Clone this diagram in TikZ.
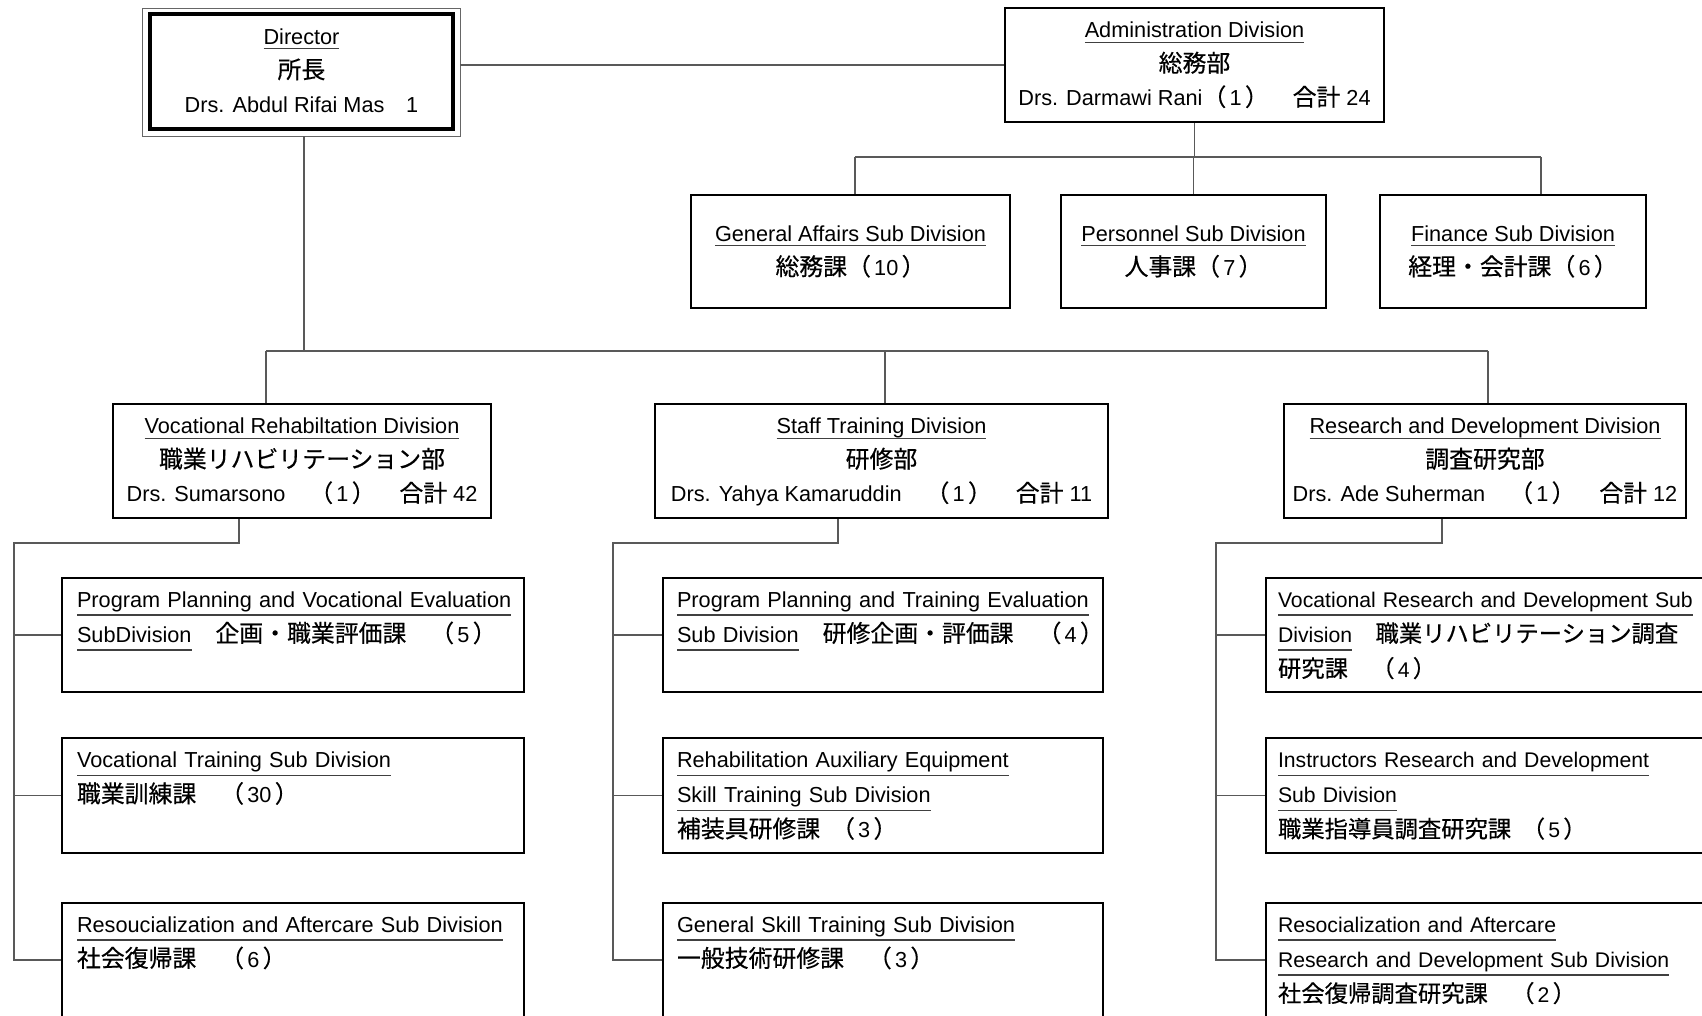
\documentclass[tikz,border=0pt]{standalone}
\usepackage{fontspec}
\setmainfont{Liberation Sans}
\newfontfamily\jpf[Scale=1.1,FakeBold=0.4]{Noto Sans CJK JP}
\newcommand\jp[1]{{\jpf #1}}
\newcommand\pp[1]{\jp{（}\hspace{0.15em}#1\hspace{0.15em}\jp{）}}
\newcommand\ulx[2][5]{\leavevmode\setbox0=\hbox{#2}\rlap{\textcolor{black!75}{\rule[-#1pt]{\wd0}{1.1pt}}}\box0}
\tikzset{
  conn/.style={draw=black!65, line width=1.3pt},
  tbox/.style={draw=black, line width=2.4pt, rectangle, inner xsep=0pt, inner ysep=0pt, align=center, font=\fontsize{21.7}{34}\selectfont},
  sbox/.style={draw=black, line width=2.4pt, rectangle, inner xsep=15pt, inner ysep=0pt, align=left, font=\fontsize{21.7}{35}\selectfont},
  lcol/.style={sbox, minimum width=462pt, text width=432pt},
  mcol/.style={sbox, minimum width=440pt, text width=412pt, inner xsep=14pt},
  rcol/.style={sbox, minimum width=494pt, text width=470pt, inner xsep=12pt, font=\fontsize{21.2}{35}\selectfont},
}
\begin{document}
\begin{tikzpicture}[x=1pt,y=-1pt]
\clip (0,0) rectangle (1702,1015);
\fill[white] (0,0) rectangle (1702,1015);

% top level
\node[draw=black!60, line width=0.9pt, minimum width=318pt, minimum height=128pt, inner sep=0pt] (dirframe) at (301,72) {};
\node[tbox, line width=3.2pt, minimum width=303pt, minimum height=115pt] (dir) at (301.5,71.5)
  {\strut\ulx{Director}\\\jp{所長}\\Drs. Abdul Rifai Mas\hspace{1em}1\strut};
\node[tbox, minimum width=379pt, minimum height=114pt] (adm) at (1194.5,65)
  {\strut\ulx{Administration Division}\\\jp{総務部}\\\mbox{Drs. Darmawi Rani\pp{1}\jp{　合計} 24}\strut};

% admin sub divisions
\node[tbox, minimum width=319pt, minimum height=113pt] (ga) at (850.5,251.5)
  {\strut\ulx{General Affairs Sub Division}\\\jp{総務課}\pp{10}\strut};
\node[tbox, minimum width=265pt, minimum height=113pt] (per) at (1193.5,251.5)
  {\strut\ulx{Personnel Sub Division}\\\jp{人事課}\pp{7}\strut};
\node[tbox, minimum width=266pt, minimum height=113pt] (fin) at (1513,251.5)
  {\strut\ulx{Finance Sub Division}\\\jp{経理・会計課}\pp{6}\strut};

% divisions
\node[tbox, minimum width=378pt, minimum height=114pt] (vr) at (302,461)
  {\strut\ulx{Vocational Rehabiltation Division}\\\jp{職業リハビリテーション部}\\\mbox{Drs. Sumarsono\jp{　}\pp{1}\jp{　合計} 42}\strut};
\node[tbox, minimum width=453pt, minimum height=114pt] (st) at (881.5,461)
  {\strut\ulx{Staff Training Division}\\\jp{研修部}\\\mbox{Drs. Yahya Kamaruddin\jp{　}\pp{1}\jp{　合計} 11}\strut};
\node[tbox, minimum width=402pt, minimum height=114pt] (rd) at (1485,461)
  {\strut\ulx{Research and Development Division}\\\jp{調査研究部}\\\mbox{Drs. Ade Suherman\jp{　}\pp{1}\jp{　合計} 12}\strut};

% left column
\node[lcol, minimum height=114pt] (va) at (293,635)
  {\strut\ulx[8.5]{Program Planning and Vocational Evaluation}\\\mbox{\ulx[8.5]{SubDivision}\jp{　企画・職業評価課　}\pp{5}}\\\strut};
\node[lcol, minimum height=115pt] (vb) at (293,795.5)
  {\strut\ulx[8.5]{Vocational Training Sub Division}\\\mbox{\jp{職業訓練課　}\pp{30}}\\\strut};
\node[lcol, minimum height=114pt] (vc) at (293,960)
  {\strut\ulx[8.5]{Resoucialization and Aftercare Sub Division}\\\mbox{\jp{社会復帰課　}\pp{6}}\\\strut};

% middle column
\node[mcol, minimum height=114pt] (sa) at (883,635)
  {\strut\ulx[8.5]{Program Planning and Training Evaluation}\\\mbox{\ulx[8.5]{Sub Division}\jp{　研修企画・評価課　}\pp{4}}\\\strut};
\node[mcol, minimum height=115pt] (sb) at (883,795.5)
  {\strut\ulx[8.5]{Rehabilitation Auxiliary Equipment}\\\ulx[8.5]{Skill Training Sub Division}\\\mbox{\jp{補装具研修課}\hspace{0.5em}\pp{3}}\strut};
\node[mcol, minimum height=114pt] (sc) at (883,960)
  {\strut\ulx[8.5]{General Skill Training Sub Division}\\\mbox{\jp{一般技術研修課　}\pp{3}}\\\strut};

% right column
\node[rcol, minimum height=114pt] (ra) at (1513,635)
  {\strut\ulx[8.5]{Vocational Research and Development Sub}\\\mbox{\ulx[8.5]{Division}\jp{　職業リハビリテーション調査}}\\\mbox{\jp{研究課　}\pp{4}}\strut};
\node[rcol, minimum height=115pt] (rb) at (1513,795.5)
  {\strut\ulx[8.5]{Instructors Research and Development}\\\ulx[8.5]{Sub Division}\\\mbox{\jp{職業指導員調査研究課}\hspace{0.5em}\pp{5}}\strut};
\node[rcol, minimum height=114pt] (rc) at (1513,960)
  {\strut\ulx[8.5]{Resocialization and Aftercare}\\\ulx[8.5]{Research and Development Sub Division}\\\mbox{\jp{社会復帰調査研究課　}\pp{2}}\strut};

% connectors top
\draw[conn] (adm.west) -- (adm.west -| dirframe.east);
\coordinate (abL) at (855,157);
\coordinate (abR) at (1541,157);
\draw[conn] (adm.south) -- (adm.south |- abL);
\draw[conn] (abL) -- (abR);
\draw[conn] (abL) -- (abL |- ga.north);
\draw[conn] (per.north |- abL) -- (per.north);
\draw[conn] (abR) -- (abR |- fin.north);

\coordinate (dbX) at (304,351);
\coordinate (dbL) at (266,351);
\coordinate (dbM) at (885,351);
\coordinate (dbR) at (1488,351);
\draw[conn] (dbX |- dirframe.south) -- (dbX);
\draw[conn] (dbL) -- (dbR);
\draw[conn] (dbL) -- (dbL |- vr.north);
\draw[conn] (dbM) -- (dbM |- st.north);
\draw[conn] (dbR) -- (dbR |- rd.north);

% division to sub divisions
\coordinate (vrD) at (239,543);
\coordinate (vrT) at (14,543);
\draw[conn] (vrD |- vr.south) -- (vrD) -- (vrT) |- (va.west);
\draw[conn] (vrT) |- (vb.west);
\draw[conn] (vrT) |- (vc.west);

\coordinate (stD) at (838,543);
\coordinate (stT) at (613,543);
\draw[conn] (stD |- st.south) -- (stD) -- (stT) |- (sa.west);
\draw[conn] (stT) |- (sb.west);
\draw[conn] (stT) |- (sc.west);

\coordinate (rdD) at (1442,543);
\coordinate (rdT) at (1216,543);
\draw[conn] (rdD |- rd.south) -- (rdD) -- (rdT) |- (ra.west);
\draw[conn] (rdT) |- (rb.west);
\draw[conn] (rdT) |- (rc.west);
\end{tikzpicture}
\end{document}
